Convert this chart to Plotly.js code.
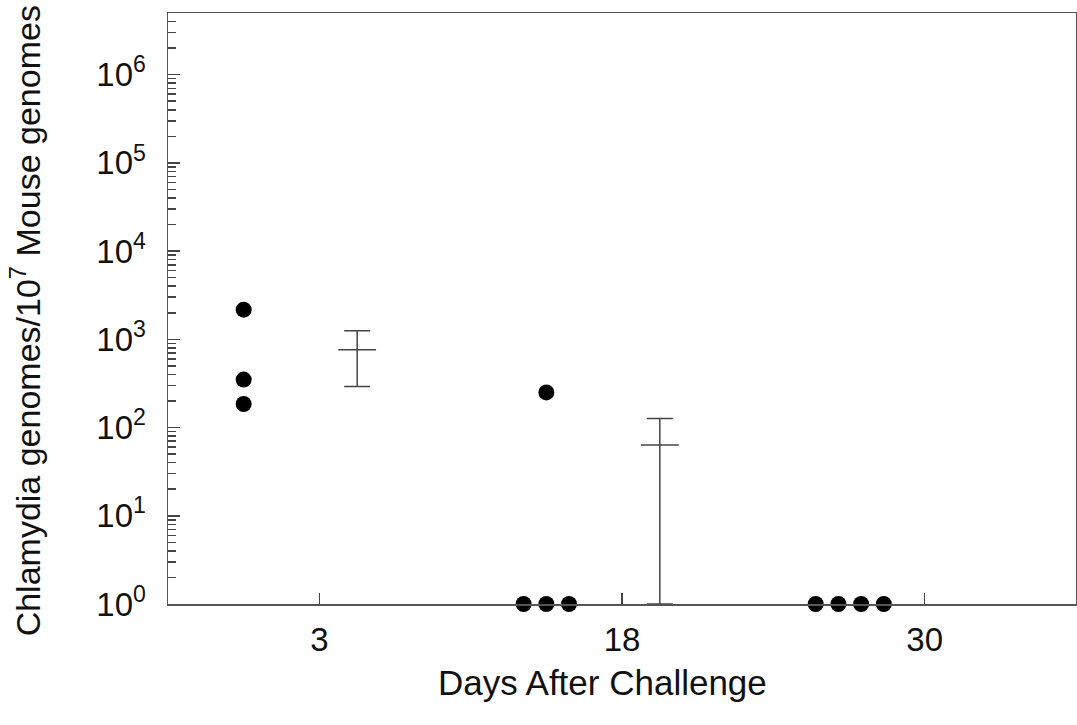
<!DOCTYPE html>
<html>
<head>
<meta charset="utf-8">
<script src="https://cdn.plot.ly/plotly-3.0.1.min.js"></script>
<style>html,body{margin:0;padding:0;background:#fff;}#chart{width:1077px;height:725px;}</style>
</head>
<body>
<div id="chart"></div>
<script>
// Categories (days after challenge)
const groups = ['3', '18', '30'];
// Individual mouse values per group
const day3Values = [2170, 350, 185];
const day18Values = [250, 1, 1, 1];
const day30Values = [1, 1, 1, 1];
// Horizontal jitter offsets (in category units) for each dot
const day3Offsets = [-0.25, -0.25, -0.25];
const day18Offsets = [-0.25, -0.325, -0.25, -0.175];
const day30Offsets = [-0.36, -0.285, -0.21, -0.135];
// Group means with SEM error bars
const meanGroups = ['3', '18'];
const meanValues = [760, 63.5];
const errPlus = [495, 63.5];
const errMinus = [468, 62.5];
const meanOffset = 0.125;
// Y tick labels
const yExponents = [0, 1, 2, 3, 4, 5, 6];
// Titles
const xTitle = 'Days After Challenge';
const yTitle = 'Chlamydia genomes/10<sup>7</sup> Mouse genomes';

const FONT = 'Liberation Sans, Arial, sans-serif';
const pos = (g, off) => groups.indexOf(g) + 0.5 + off;

const dotX = [], dotY = [];
[[day3Values, day3Offsets, '3'], [day18Values, day18Offsets, '18'], [day30Values, day30Offsets, '30']].forEach(([vals, offs, g]) => {
  vals.forEach((v, i) => { dotX.push(pos(g, offs[i])); dotY.push(v); });
});

const dots = {
  type: 'scatter', mode: 'markers', x: dotX, y: dotY, cliponaxis: false,
  marker: {color: '#000', size: 16, line: {width: 0}}, hoverinfo: 'y'
};
const means = {
  type: 'scatter', mode: 'markers', cliponaxis: false,
  x: meanGroups.map(g => pos(g, meanOffset)), y: meanValues,
  marker: {symbol: 'line-ew', size: 27, color: '#444', line: {color: '#444', width: 1.5}},
  error_y: {type: 'data', symmetric: false, array: errPlus, arrayminus: errMinus,
            width: 13, thickness: 1.5, color: '#444'}
};

const minorVals = [];
for (let e = 0; e <= 6; e++) for (let d = 2; d <= 9; d++) {
  const v = d * Math.pow(10, e);
  if (v <= 5e6) minorVals.push(v);
}

const layout = {
  width: 1077, height: 725,
  margin: {l: 168, r: 1, t: 13, b: 121},
  paper_bgcolor: '#fff', plot_bgcolor: '#fff',
  showlegend: false,
  font: {family: FONT, size: 33, color: '#000'},
  xaxis: {
    range: [0, 3], tickmode: 'array', tickvals: groups.map(g => pos(g, 0)), ticktext: groups,
    ticks: 'inside', ticklen: 11, tickwidth: 1.5, tickcolor: '#444',
    showline: true, mirror: true, linecolor: '#555', linewidth: 1.5,
    showgrid: false, zeroline: false, ticklabelstandoff: 6,
    tickfont: {family: FONT, size: 33, color: '#111'}
  },
  yaxis: {
    type: 'log', range: [0, Math.log10(5e6)],
    tickmode: 'array', tickvals: yExponents.map(e => Math.pow(10, e)),
    ticktext: yExponents.map(e => '10<sup>' + e + '</sup>'),
    ticks: 'inside', ticklen: 12, tickwidth: 1.5, tickcolor: '#444',
    minor: {tickmode: 'array', tickvals: minorVals, ticks: 'inside', ticklen: 8, tickwidth: 1.5, tickcolor: '#444', showgrid: false},
    showline: true, mirror: true, linecolor: '#555', linewidth: 1.5,
    showgrid: false, zeroline: false, ticklabelstandoff: 14,
    tickfont: {family: FONT, size: 33, color: '#111'}
  },
  annotations: [
    {text: xTitle, xref: 'paper', yref: 'paper', x: 0.479, y: -0.132,
     xanchor: 'center', yanchor: 'middle', showarrow: false,
     font: {family: FONT, size: 35, color: '#111'}},
    {text: yTitle, xref: 'paper', yref: 'paper', x: -0.157, y: 0.479, textangle: -90,
     xanchor: 'center', yanchor: 'middle', showarrow: false,
     font: {family: FONT, size: 34, color: '#111'}}
  ]
};

Plotly.newPlot('chart', [dots, means], layout, {displayModeBar: false, staticPlot: true});
</script>
</body>
</html>
